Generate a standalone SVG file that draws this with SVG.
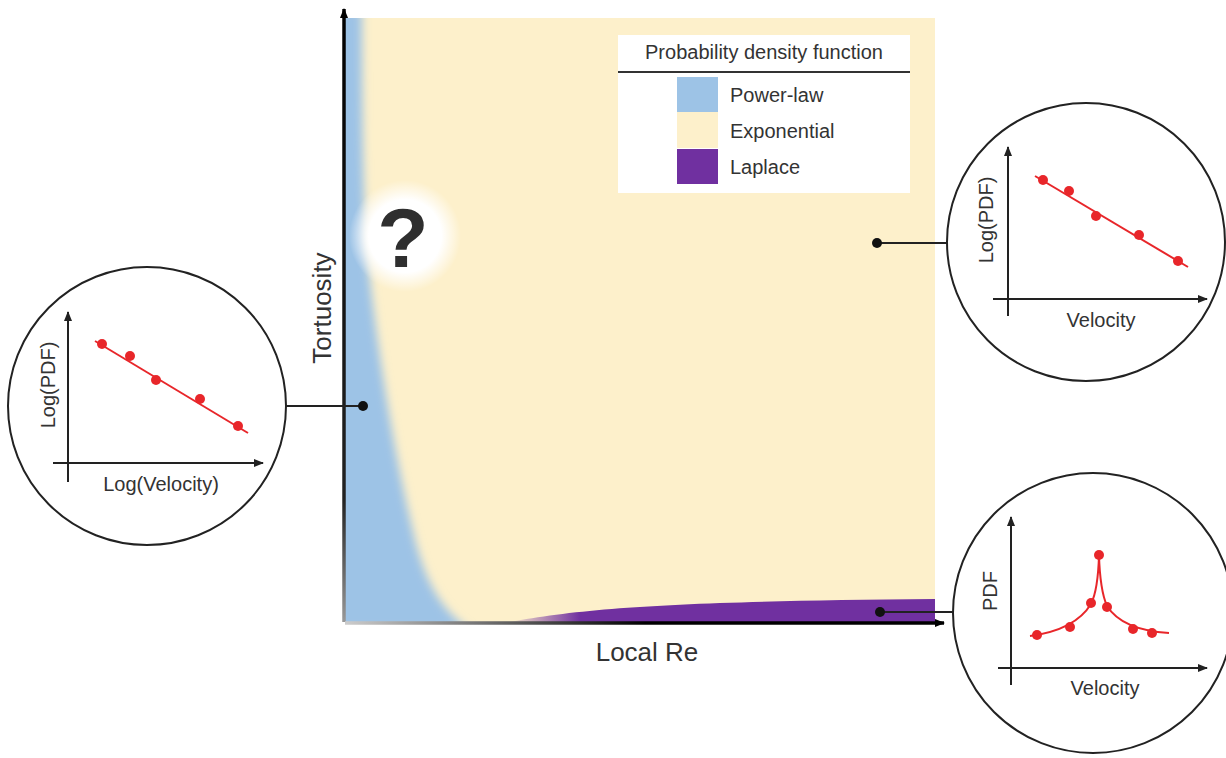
<svg xmlns="http://www.w3.org/2000/svg" width="1226" height="758" viewBox="0 0 1226 758">
<style>
  text { font-family: "Liberation Sans", Arial, sans-serif; fill: #333; }
  .circ { fill: #fff; stroke: #222; stroke-width: 2; }
  .ax { stroke: #222; stroke-width: 2; fill: none; }
  .red { stroke: #e8262a; stroke-width: 2; fill: none; }
  .dot { fill: #e8262a; }
  .conn { stroke: #222; stroke-width: 2; fill: none; }
  .cdot { fill: #111; }
  .lab { font-size: 20px; }
  .leg { font-size: 20px; }
</style>
<defs>
  <marker id="ah" viewBox="0 0 10 10" refX="9" refY="5" markerWidth="5" markerHeight="5" orient="auto" markerUnits="strokeWidth">
    <path d="M0,1 L10,5 L0,9 Z" fill="#222"/>
  </marker>
  <marker id="ahb" viewBox="0 0 10 10" refX="9" refY="5" markerWidth="3" markerHeight="3" orient="auto" markerUnits="strokeWidth">
    <path d="M0,1 L10,5 L0,9 Z" fill="#000"/>
  </marker>
  <linearGradient id="gy" gradientUnits="userSpaceOnUse" x1="0" y1="8" x2="0" y2="622">
    <stop offset="0" stop-color="#000"/>
    <stop offset="0.8" stop-color="#222"/>
    <stop offset="1" stop-color="#999"/>
  </linearGradient>
  <linearGradient id="gx" gradientUnits="userSpaceOnUse" x1="345" y1="0" x2="946" y2="0">
    <stop offset="0" stop-color="#ccc"/>
    <stop offset="0.3" stop-color="#555"/>
    <stop offset="0.5" stop-color="#000"/>
    <stop offset="1" stop-color="#000"/>
  </linearGradient>
  <linearGradient id="gp" gradientUnits="userSpaceOnUse" x1="505" y1="0" x2="580" y2="0">
    <stop offset="0" stop-color="#7030a0" stop-opacity="0"/>
    <stop offset="1" stop-color="#7030a0" stop-opacity="1"/>
  </linearGradient>
  <radialGradient id="glow" cx="0.5" cy="0.5" r="0.5">
    <stop offset="0" stop-color="#fff" stop-opacity="1"/>
    <stop offset="0.65" stop-color="#fff" stop-opacity="1"/>
    <stop offset="1" stop-color="#fff" stop-opacity="0"/>
  </radialGradient>
  <filter id="blur" x="-20%" y="-5%" width="140%" height="110%">
    <feGaussianBlur stdDeviation="5"/>
  </filter>
  <clipPath id="plotclip">
    <rect x="345" y="18" width="590" height="604"/>
  </clipPath>
</defs>

<g id="plot">
  <rect x="345" y="18" width="590" height="604" fill="#fdf0cb"/>
  <g clip-path="url(#plotclip)">
    <path d="M335,10 L362,10 C362,150 364,240 370,280 C378,350 393,450 415,540 C428,590 445,612 470,630 L335,630 Z" fill="#9dc3e6" filter="url(#blur)"/>
    <path d="M500,624 C580,607 690,601 935,599 L935,624 Z" fill="url(#gp)"/>
  </g>
  <line x1="344" y1="622" x2="344" y2="9" stroke="url(#gy)" stroke-width="3.5" marker-end="url(#ahb)"/>
  <line x1="345" y1="623" x2="944" y2="623" stroke="url(#gx)" stroke-width="3.5" marker-end="url(#ahb)"/>
  <text x="331" y="308" font-size="26" text-anchor="middle" transform="rotate(-90 331 308)">Tortuosity</text>
  <text x="647" y="661" font-size="26" text-anchor="middle">Local Re</text>
</g>

<g id="question">
  <circle cx="405" cy="236" r="56" fill="url(#glow)"/>
  <text x="403" y="267" font-size="84" font-weight="bold" text-anchor="middle" style="fill:#2f2f2f">?</text>
</g>

<g id="legend">
  <rect x="618" y="35" width="292" height="158" fill="#fff"/>
  <text x="764" y="59" class="leg" text-anchor="middle">Probability density function</text>
  <line x1="618" y1="72" x2="910" y2="72" stroke="#333" stroke-width="2"/>
  <rect x="677" y="77" width="41" height="35" fill="#9dc3e6"/>
  <rect x="677" y="112" width="41" height="36" fill="#fdf0cb"/>
  <rect x="677" y="149" width="41" height="35" fill="#7030a0"/>
  <text x="730" y="102" class="leg">Power-law</text>
  <text x="730" y="138" class="leg">Exponential</text>
  <text x="730" y="174" class="leg">Laplace</text>
</g>

<g id="connectors">
  <line x1="286" y1="406" x2="363" y2="406" class="conn"/>
  <circle cx="363" cy="406" r="5" class="cdot"/>
  <line x1="877" y1="243" x2="948" y2="243" class="conn"/>
  <circle cx="877" cy="243" r="5" class="cdot"/>
  <line x1="880" y1="612" x2="954" y2="612" class="conn"/>
  <circle cx="880" cy="612" r="5" class="cdot"/>
</g>

<g id="circle-left">
  <circle cx="147" cy="406" r="139" class="circ"/>
  <line x1="68" y1="482" x2="68" y2="312" class="ax" marker-end="url(#ah)"/>
  <line x1="53" y1="463" x2="263" y2="463" class="ax" marker-end="url(#ah)"/>
  <line x1="95" y1="341" x2="248" y2="433" class="red"/>
  <circle cx="102" cy="344" r="5" class="dot"/>
  <circle cx="130" cy="356" r="5" class="dot"/>
  <circle cx="156" cy="380" r="5" class="dot"/>
  <circle cx="200" cy="399" r="5" class="dot"/>
  <circle cx="238" cy="426" r="5" class="dot"/>
  <text x="55" y="385" class="lab" text-anchor="middle" transform="rotate(-90 55 385)">Log(PDF)</text>
  <text x="161" y="491" class="lab" text-anchor="middle">Log(Velocity)</text>
</g>

<g id="circle-top-right">
  <circle cx="1086" cy="242" r="139" class="circ"/>
  <line x1="1008" y1="316" x2="1008" y2="147" class="ax" marker-end="url(#ah)"/>
  <line x1="993" y1="299" x2="1207" y2="299" class="ax" marker-end="url(#ah)"/>
  <line x1="1035" y1="176" x2="1188" y2="267" class="red"/>
  <circle cx="1043" cy="180" r="5" class="dot"/>
  <circle cx="1069" cy="191" r="5" class="dot"/>
  <circle cx="1096" cy="216" r="5" class="dot"/>
  <circle cx="1139" cy="235" r="5" class="dot"/>
  <circle cx="1178" cy="261" r="5" class="dot"/>
  <text x="993" y="220" class="lab" text-anchor="middle" transform="rotate(-90 993 220)">Log(PDF)</text>
  <text x="1101" y="327" class="lab" text-anchor="middle">Velocity</text>
</g>

<g id="circle-bottom-right">
  <circle cx="1093" cy="613" r="140" class="circ"/>
  <line x1="1011" y1="685" x2="1011" y2="517" class="ax" marker-end="url(#ah)"/>
  <line x1="998" y1="668" x2="1207" y2="668" class="ax" marker-end="url(#ah)"/>
  <path d="M1030,636 Q1075,630 1091,604 Q1098,590 1099,555 Q1100,590 1107,606 Q1122,630 1169,633" class="red"/>
  <circle cx="1037" cy="635" r="5" class="dot"/>
  <circle cx="1070" cy="627" r="5" class="dot"/>
  <circle cx="1091" cy="603" r="5" class="dot"/>
  <circle cx="1099" cy="555" r="5" class="dot"/>
  <circle cx="1107" cy="607" r="5" class="dot"/>
  <circle cx="1133" cy="629" r="5" class="dot"/>
  <circle cx="1152" cy="633" r="5" class="dot"/>
  <text x="997" y="591" class="lab" text-anchor="middle" transform="rotate(-90 997 591)">PDF</text>
  <text x="1105" y="695" class="lab" text-anchor="middle">Velocity</text>
</g>
</svg>
